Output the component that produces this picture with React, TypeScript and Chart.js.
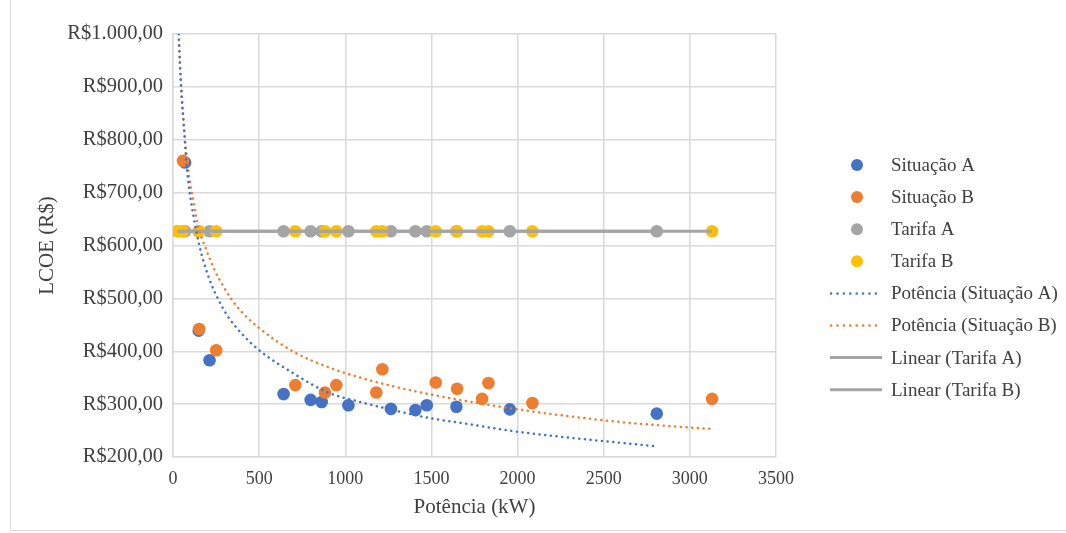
import React, { useEffect, useRef } from "react";
import { Chart, registerables } from "chart.js";

Chart.register(...registerables);

// ---- Data ----
const seriesLabels = [
  "Situação A",
  "Situação B",
  "Tarifa A",
  "Tarifa B",
  "Potência (Situação A)",
  "Potência (Situação B)",
  "Linear (Tarifa A)",
  "Linear (Tarifa B)",
];

const xTicks = [0, 500, 1000, 1500, 2000, 2500, 3000, 3500];
const yTicks = [200, 300, 400, 500, 600, 700, 800, 900, 1000];

// Situação A (kW, R$)
const sitAX = [25, 70, 149, 212, 642, 799, 863, 1018, 1265, 1407, 1473, 1645, 1955, 2808];
const sitAY = [1120, 757, 439, 383, 319, 308, 304, 298, 291, 289, 298, 295, 290, 282];

// Situação B (kW, R$)
const sitBX = [25, 58, 152, 251, 710, 882, 948, 1180, 1215, 1525, 1649, 1794, 1831, 2086, 3129];
const sitBY = [1090, 760, 442, 402, 336, 322, 336, 322, 366, 341, 329, 310, 340, 302, 310];

// Tarifa A / B
const tarifaAY = [627, 627, 627, 627, 627, 627, 627, 627, 627, 627, 627, 627, 627, 627];
const tarifaBY = [627, 627, 627, 627, 627, 627, 627, 627, 627, 627, 627, 627, 627, 627, 627];

// Power trend lines
const trendAX = [33, 40, 50, 62, 77, 96, 121, 150, 180, 222, 260, 310, 400, 500, 700, 900, 1100, 1300, 1500, 1700, 1950, 2200, 2500, 2808];
const trendAY = [1000, 950, 885, 832, 759, 702, 652, 604, 567, 527, 500, 470, 433, 402, 358, 322, 303, 287, 273, 263, 250, 240, 230, 220];
const trendBX = [33, 40, 50, 62, 87, 116, 149, 193, 242, 290, 338, 400, 503, 700, 900, 1100, 1300, 1500, 1700, 2000, 2300, 2600, 2900, 3129];
const trendBY = [1000, 945, 885, 830, 747, 688, 633, 592, 553, 524, 499, 474, 443, 399, 370, 349, 332, 318, 306, 290, 277, 266, 258, 253];

// Linear trend lines (Tarifa)
const linearAX = [25, 2808];
const linearAY = [627, 627];
const linearBX = [25, 3129];
const linearBY = [627, 627];

// ---- Styles ----
const BLUE = "#4472C4";
const ORANGE = "#ED7D31";
const GRAY = "#A5A5A5";
const YELLOW = "#FFC000";
const GRID = "#D9D9D9";
const TEXT = "#404040";
const FONT_FAMILY = "'Liberation Serif', 'Times New Roman', serif";

const pts = (xs: number[], ys: number[]) => xs.map((x, i) => ({ x, y: ys[i] }));

const formatBRL = (v: number) => {
  const s = String(Math.round(v)).replace(/\B(?=(\d{3})+(?!\d))/g, ".");
  return "R$" + s + ",00";
};

type LegendKind = { kind: "point" | "dot" | "solid"; color: string };
const legendStyles: LegendKind[] = [
  { kind: "point", color: BLUE },
  { kind: "point", color: ORANGE },
  { kind: "point", color: GRAY },
  { kind: "point", color: YELLOW },
  { kind: "dot", color: BLUE },
  { kind: "dot", color: ORANGE },
  { kind: "solid", color: GRAY },
  { kind: "solid", color: GRAY },
];

const framePlugin = {
  id: "frame",
  beforeDraw(chart: any) {
    const ctx = chart.ctx;
    ctx.save();
    ctx.fillStyle = "#ffffff";
    ctx.fillRect(0, 0, chart.width, chart.height);
    ctx.strokeStyle = GRID;
    ctx.lineWidth = 1;
    ctx.beginPath();
    ctx.moveTo(10.5, 0);
    ctx.lineTo(10.5, 530.5);
    ctx.lineTo(chart.width, 530.5);
    ctx.stroke();
    ctx.restore();
  },
};

const legendPlugin = {
  id: "customLegend",
  afterDraw(chart: any) {
    const ctx = chart.ctx;
    ctx.save();
    ctx.font = `19px ${FONT_FAMILY}`;
    ctx.textBaseline = "middle";
    ctx.textAlign = "left";
    seriesLabels.forEach((label, i) => {
      const st = legendStyles[i];
      const y = 165 + i * 32.1;
      if (st.kind === "point") {
        ctx.fillStyle = st.color;
        ctx.beginPath();
        ctx.arc(857, y, 6, 0, Math.PI * 2);
        ctx.fill();
      } else {
        ctx.strokeStyle = st.color;
        ctx.lineWidth = st.kind === "dot" ? 2.5 : 3;
        ctx.lineCap = st.kind === "dot" ? "round" : "butt";
        ctx.setLineDash(st.kind === "dot" ? [0.1, 6.3] : []);
        ctx.beginPath();
        ctx.moveTo(st.kind === "dot" ? 831 : 830, y);
        ctx.lineTo(882, y);
        ctx.stroke();
        ctx.setLineDash([]);
      }
      ctx.fillStyle = TEXT;
      ctx.fillText(label, 891, y + 1);
    });
    ctx.restore();
  },
};

export default function App() {
  const ref = useRef<HTMLCanvasElement>(null);

  useEffect(() => {
    if (!ref.current) return;
    const xTickFont = { family: FONT_FAMILY, size: 18 };
    const yTickFont = { family: FONT_FAMILY, size: 20.5 };
    const titleFont = { family: FONT_FAMILY, size: 21 };

    const chart = new Chart(ref.current, {
      type: "scatter",
      data: {
        datasets: [
          {
            label: seriesLabels[4],
            data: pts(trendAX, trendAY),
            showLine: true,
            borderColor: BLUE,
            borderWidth: 2.5,
            borderDash: [0.1, 5.6],
            borderCapStyle: "round",
            pointRadius: 0,
            cubicInterpolationMode: "monotone",
            order: 0,
          } as any,
          {
            label: seriesLabels[5],
            data: pts(trendBX, trendBY),
            showLine: true,
            borderColor: ORANGE,
            borderWidth: 2.5,
            borderDash: [0.1, 5.6],
            borderCapStyle: "round",
            pointRadius: 0,
            cubicInterpolationMode: "monotone",
            order: 0,
          } as any,
          {
            label: seriesLabels[6],
            data: pts(linearAX, linearAY),
            showLine: true,
            borderColor: GRAY,
            borderWidth: 3,
            pointRadius: 0,
            order: 0,
          } as any,
          {
            label: seriesLabels[7],
            data: pts(linearBX, linearBY),
            showLine: true,
            borderColor: GRAY,
            borderWidth: 3,
            pointRadius: 0,
            order: 0,
          } as any,
          {
            label: seriesLabels[3],
            data: pts(sitBX, tarifaBY),
            backgroundColor: YELLOW,
            borderWidth: 0,
            pointRadius: 6.3,
            order: 1,
          },
          {
            label: seriesLabels[2],
            data: pts(sitAX, tarifaAY),
            backgroundColor: GRAY,
            borderWidth: 0,
            pointRadius: 6.3,
            order: 2,
          },
          {
            label: seriesLabels[1],
            data: pts(sitBX, sitBY),
            backgroundColor: ORANGE,
            borderWidth: 0,
            pointRadius: 6.3,
            order: 3,
          },
          {
            label: seriesLabels[0],
            data: pts(sitAX, sitAY),
            backgroundColor: BLUE,
            borderWidth: 0,
            pointRadius: 6.3,
            order: 4,
          },
        ],
      },
      options: {
        responsive: false,
        animation: false,
        devicePixelRatio: 1,
        layout: { padding: { left: 0, right: 290, top: 34, bottom: 0 } },
        plugins: {
          legend: { display: false },
          tooltip: { enabled: false },
        },
        scales: {
          x: {
            type: "linear",
            min: xTicks[0],
            max: xTicks[xTicks.length - 1],
            afterBuildTicks: (scale: any) => {
              scale.ticks = xTicks.map((v) => ({ value: v }));
            },
            ticks: {
              font: xTickFont,
              color: TEXT,
              padding: 11,
              maxRotation: 0,
              callback: (v: any) => String(v),
            },
            grid: { color: GRID, lineWidth: 1.5, drawTicks: false },
            border: { color: GRID, width: 1.5 },
            title: {
              display: true,
              text: "Potência (kW)",
              font: titleFont,
              color: TEXT,
              padding: { top: 0, bottom: 13 },
            },
            afterFit: (scale: any) => {
              scale.height = 76;
            },
          },
          y: {
            type: "linear",
            min: yTicks[0],
            max: yTicks[yTicks.length - 1],
            afterBuildTicks: (scale: any) => {
              scale.ticks = yTicks.map((v) => ({ value: v }));
            },
            ticks: {
              font: yTickFont,
              color: TEXT,
              padding: 10,
              callback: (v: any) => formatBRL(Number(v)),
            },
            grid: { color: GRID, lineWidth: 1.5, drawTicks: false },
            border: { color: GRID, width: 1.5 },
            title: {
              display: true,
              text: "LCOE (R$)",
              font: titleFont,
              color: TEXT,
              padding: { top: 34.5, bottom: 0 },
            },
            afterFit: (scale: any) => {
              scale.width = 173;
            },
          },
        },
      },
      plugins: [framePlugin, legendPlugin],
    });

    return () => chart.destroy();
  }, []);

  return (
    <div style={{ position: "fixed", left: 0, top: 0, width: 1066, height: 533, background: "#fff" }}>
      <canvas ref={ref} width={1066} height={533} style={{ display: "block" }} />
    </div>
  );
}
